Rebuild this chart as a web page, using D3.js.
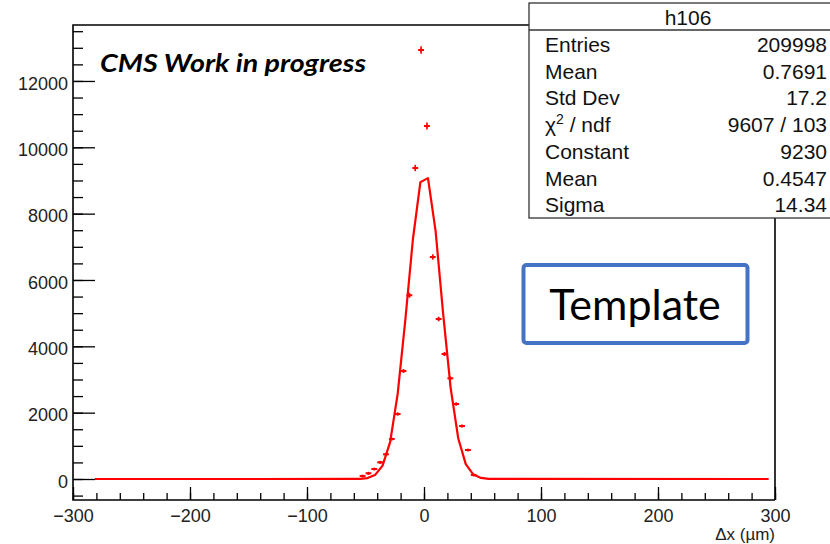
<!DOCTYPE html>
<meta charset="utf-8">
<style>
body { margin: 0; background: #fff; }
svg { display: block; }
.tick text { font-family: "Liberation Sans", Arial, sans-serif; font-size: 18px; fill: #222; }
.stat { font-family: "Liberation Sans", Arial, sans-serif; font-size: 21px; fill: #111; }
</style>
<svg width="830" height="544"></svg>
<script src="https://d3js.org/d3.v7.min.js"></script>
<script>

// histogram h106 : bin centres (µm) and contents
var binCenters = [-52.5, -47.5, -42.5, -37.5, -32.5, -27.5, -22.5, -17.5, -12.5, -7.5, -2.5,
                  2.5, 7.5, 12.5, 17.5, 22.5, 27.5, 32.5, 37.5, 42.5];
var binCounts  = [90, 172, 301, 503, 745, 1206, 1960, 3256, 5540, 9376, 12934,
                  10642, 6693, 4824, 3768, 3036, 2261, 1598, 874, 120];
var binWidth = 5;

// gaussian fit as drawn (polyline vertices)
var fitX = [-281.3, -61.3, -54.8, -48.3, -41.9, -35.4, -28.9, -22.5, -16.0, -9.5, -3.1,
            3.4, 9.9, 16.3, 22.8, 29.3, 35.7, 42.2, 48.7, 55.2, 61.6, 294.6];
var fitY = [0, 1, 5, 28, 118, 405, 1121, 2566, 4780, 7220, 8950,
            9070, 7480, 5010, 2741, 1220, 450, 133, 32, 6, 1, 0];

var xMajor = [-300, -200, -100, 0, 100, 200, 300];
var yMajor = [0, 2000, 4000, 6000, 8000, 10000, 12000];

var statTitle = "h106";
var statLabels = ["Entries", "Mean", "Std Dev", "chi2", "Constant", "Mean", "Sigma"];
var statValues = ["209998", "0.7691", "17.2", "9607 / 103", "9230", "0.4547", "14.34"];

var svg = d3.select("svg");
var frame = {left: 73, right: 775, top: 25, bottom: 500};

var x = d3.scaleLinear().domain([-300, 300]).range([frame.left, frame.right]);
var y = d3.scaleLinear().domain([-633, 13687]).range([frame.bottom, frame.top]);

var fmt = d3.format("d");

// minor ticks
svg.append("g")
    .attr("transform", "translate(0," + frame.bottom + ")")
    .call(d3.axisBottom(x).tickValues(d3.range(-300, 301, 20)).tickSize(-7).tickFormat(""))
    .call(function(g) { g.select(".domain").remove(); g.selectAll("line").attr("stroke", "#000").attr("stroke-width", 1.3); });
svg.append("g")
    .attr("transform", "translate(" + frame.left + ",0)")
    .call(d3.axisLeft(y).tickValues(d3.range(-500, 13501, 500)).tickSize(-10).tickFormat(""))
    .call(function(g) { g.select(".domain").remove(); g.selectAll("line").attr("stroke", "#000").attr("stroke-width", 1.3); });

// major ticks + labels
svg.append("g")
    .attr("transform", "translate(0," + frame.bottom + ")")
    .call(d3.axisBottom(x).tickValues(xMajor).tickSize(-13).tickPadding(8).tickFormat(fmt))
    .call(function(g) {
      g.select(".domain").remove();
      g.selectAll("line").attr("stroke", "#000").attr("stroke-width", 1.3);
      g.selectAll("text").attr("y", 9).attr("dy", "0.71em");
    });
svg.append("g")
    .attr("transform", "translate(" + frame.left + ",0)")
    .call(d3.axisLeft(y).tickValues(yMajor).tickSize(-22).tickPadding(5).tickFormat(fmt))
    .call(function(g) {
      g.select(".domain").remove();
      g.selectAll("line").attr("stroke", "#000").attr("stroke-width", 1.3);
      g.selectAll("text").attr("dy", "0.45em");
    });

// frame
svg.append("path")
    .attr("d", "M" + x(300) + "," + frame.bottom + "H" + frame.left + "V" + frame.top + "H" + 600)
    .attr("fill", "none").attr("stroke", "#000").attr("stroke-width", 1.6);
svg.append("line")
    .attr("x1", frame.right).attr("x2", frame.right).attr("y1", 200).attr("y2", frame.bottom)
    .attr("stroke", "#000").attr("stroke-width", 1.6);

svg.append("text")
    .attr("x", frame.right).attr("y", 540)
    .attr("text-anchor", "end")
    .style("font-family", "'Liberation Sans', Arial, sans-serif")
    .style("font-size", "17px").style("fill", "#222")
    .text("\u0394x (\u00b5m)");

// fit curve
var line = d3.line().x(function(d) { return x(d[0]); }).y(function(d) { return y(d[1]); });
svg.append("path")
    .datum(d3.zip(fitX, fitY))
    .attr("d", line)
    .attr("fill", "none").attr("stroke", "#ff0000").attr("stroke-width", 2.2)
    .attr("stroke-linejoin", "round");

// data points with error bars
var pts = svg.append("g").selectAll("g")
    .data(d3.zip(binCenters, binCounts))
    .enter().append("g");
pts.append("line")
    .attr("x1", function(d) { return x(d[0] - binWidth / 2); })
    .attr("x2", function(d) { return x(d[0] + binWidth / 2); })
    .attr("y1", function(d) { return y(d[1]); })
    .attr("y2", function(d) { return y(d[1]); })
    .attr("stroke", "#ff0000").attr("stroke-width", 2);
pts.append("line")
    .attr("x1", function(d) { return x(d[0]); })
    .attr("x2", function(d) { return x(d[0]); })
    .attr("y1", function(d) { return y(d[1] + Math.sqrt(d[1])); })
    .attr("y2", function(d) { return y(d[1] - Math.sqrt(d[1])); })
    .attr("stroke", "#ff0000").attr("stroke-width", 1.6);
pts.append("circle")
    .attr("cx", function(d) { return x(d[0]); })
    .attr("cy", function(d) { return y(d[1]); })
    .attr("r", 1.6).attr("fill", "#ff0000");

// CMS label
svg.append("text")
    .attr("x", 100).attr("y", 72)
    .attr("textLength", 266).attr("lengthAdjust", "spacingAndGlyphs")
    .style("font-family", "Lato, 'Open Sans', sans-serif")
    .style("font-weight", "bold").style("font-style", "italic")
    .style("font-size", "25px")
    .text("CMS Work in progress");

// stats box
var box = {x: 529, y: 3, w: 320, h: 215, head: 27, row: 26.7};
svg.append("rect")
    .attr("x", box.x).attr("y", box.y).attr("width", box.w).attr("height", box.h)
    .attr("fill", "#fff").attr("stroke", "#333").attr("stroke-width", 1.3);
svg.append("line")
    .attr("x1", box.x).attr("x2", box.x + box.w)
    .attr("y1", box.y + box.head).attr("y2", box.y + box.head)
    .attr("stroke", "#333").attr("stroke-width", 1.3);
svg.append("text").attr("class", "stat")
    .attr("x", 688).attr("y", box.y + 22).attr("text-anchor", "middle")
    .text(statTitle);

var rows = svg.append("g").selectAll("g")
    .data(d3.zip(statLabels, statValues))
    .enter().append("g")
    .attr("transform", function(d, i) { return "translate(0," + (box.y + box.head + 22 + i * box.row) + ")"; });
rows.append("text").attr("class", "stat")
    .attr("x", 545)
    .each(function(d) {
      var t = d3.select(this);
      if (d[0] === "chi2") {
        t.append("tspan").text("\u03c7");
        t.append("tspan").attr("dy", -8).style("font-size", "14px").text("2");
        t.append("tspan").attr("dy", 8).text(" / ndf");
      } else {
        t.text(d[0]);
      }
    });
rows.append("text").attr("class", "stat")
    .attr("x", 827).attr("text-anchor", "end")
    .text(function(d) { return d[1]; });

// "Template" annotation
svg.append("rect")
    .attr("x", 523.5).attr("y", 265).attr("width", 224).attr("height", 78)
    .attr("rx", 3)
    .attr("fill", "#fff").attr("stroke", "#4472c4").attr("stroke-width", 4);
svg.append("text")
    .attr("x", 635).attr("y", 320).attr("text-anchor", "middle")
    .style("font-family", "Lato, 'Open Sans', sans-serif")
    .style("font-size", "43px").style("fill", "#000")
    .text("Template");

</script>
